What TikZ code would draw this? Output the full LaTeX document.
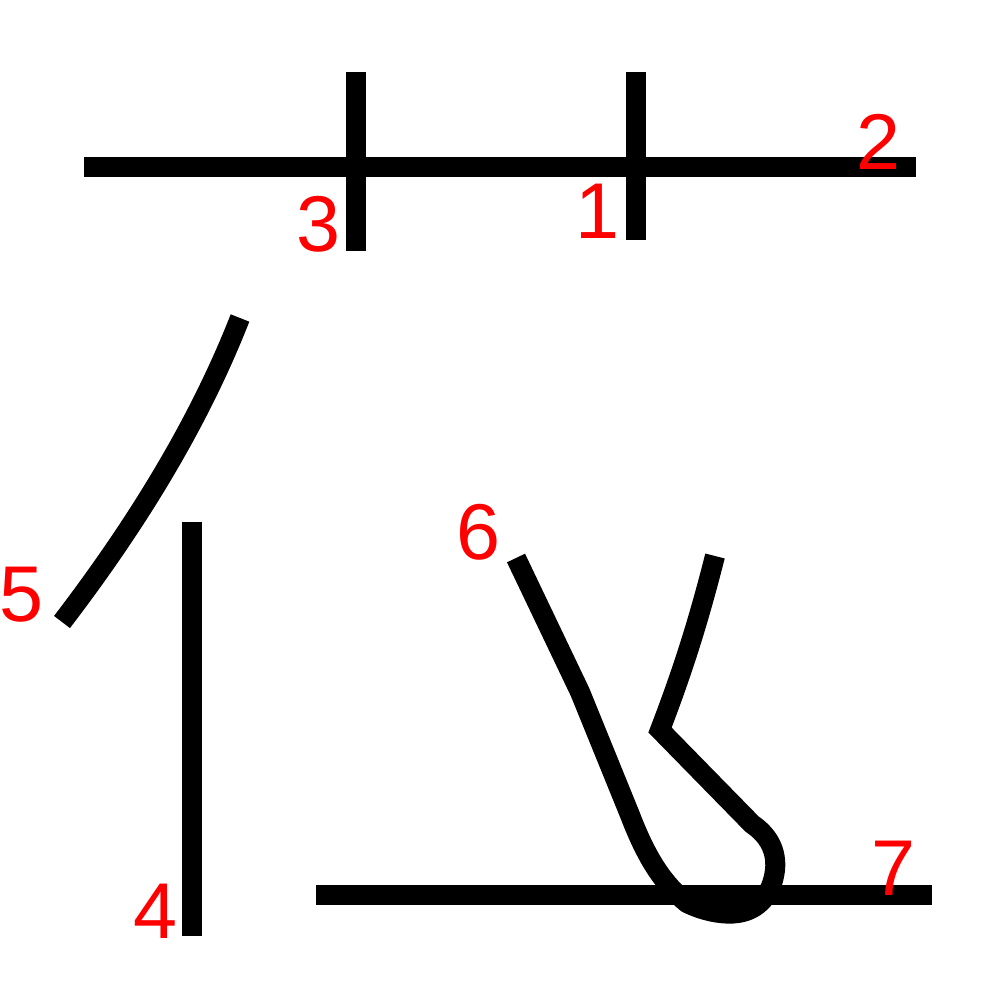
\documentclass[tikz,border=0pt]{standalone}
\usepackage{fontspec}
\setmainfont{Liberation Sans}
\usepackage{tikz}

\tikzset{
	stroke/.style={line width=0.2cm, black},
	num/.style={text=red, inner sep=0pt, font=\fontsize{22.5}{26}\selectfont}
}

\begin{document}
\begin{tikzpicture}[x=0.01cm, y=-0.01cm]
	\useasboundingbox (0,0) rectangle (1000,1000);
	\draw[stroke] (636,72) -- (636,240);
	\draw[stroke] (84,167) -- (916,167);
	\draw[stroke] (356,72) -- (356,251);
	\draw[stroke] (192,522) -- (192,936);
	\draw[stroke] (240,318) .. controls (200,420) and (140,520) .. (62,622);
	\draw[stroke] (516,558) -- (580,692) -- (630,815)
		.. controls (648,862) and (665,885) .. (687,903)
		.. controls (705,912) and (725,915) .. (738,913)
		.. controls (758,910) and (772,895) .. (775,870)
		.. controls (777,850) and (768,835) .. (752,824)
		-- (660,730) .. controls (685,665) and (700,615) .. (715,556);
	\draw[stroke] (316,895) -- (932,895);
	\node[num] (n1) at (597,211) {1};
	\node[num] (n2) at (878,142) {2};
	\node[num] (n3) at (318,224) {3};
	\node[num] (n4) at (155,911) {4};
	\node[num] (n5) at (22,595) {5};
	\node[num] (n6) at (478,532) {6};
	\node[num] (n7) at (893,868) {7};
\end{tikzpicture}
\end{document}
